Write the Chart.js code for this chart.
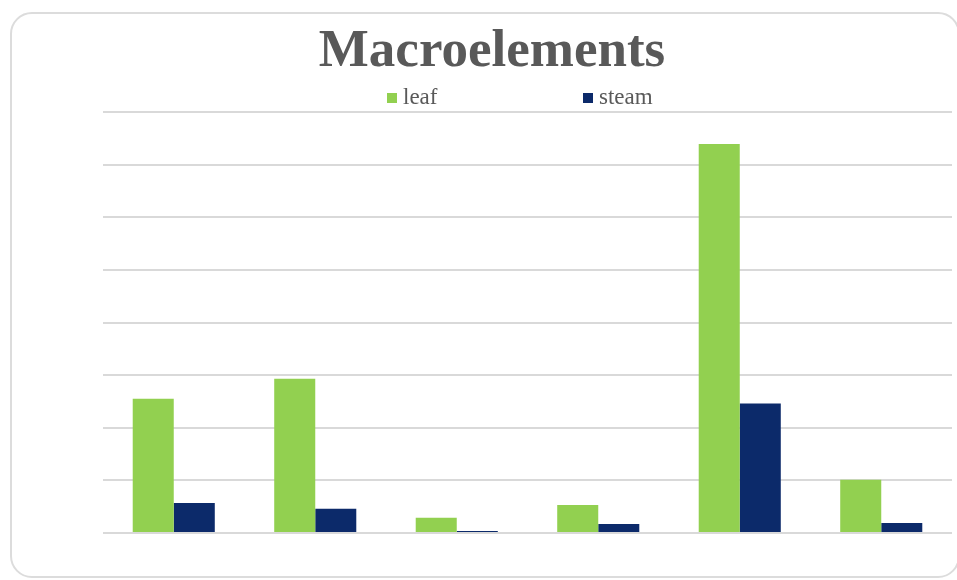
<!DOCTYPE html>
<html>
<head>
<meta charset="utf-8">
<script src="https://cdn.jsdelivr.net/npm/chart.js@4.4.1/dist/chart.umd.min.js"></script>
<style>
  html, body { margin: 0; padding: 0; background: #fff; }
  #wrap { position: relative; width: 957px; height: 580px; overflow: hidden; }
  #card {
    position: absolute; left: 10px; top: 12px; width: 950px; height: 566px;
    border: 2px solid #dcdcdc; border-radius: 22px; box-sizing: border-box;
  }
  #title {
    position: absolute; left: 0; width: 984px; top: 18px; text-align: center;
    font-family: "Liberation Serif", "Times New Roman", serif; font-weight: bold;
    font-size: 53px; color: #595959; line-height: 60px;
  }
  .leg {
    position: absolute; top: 84px; font-family: "Liberation Serif", serif;
    font-size: 23px; color: #595959; line-height: 26px;
  }
  .leg span { display: inline-block; width: 10px; height: 10px; margin-right: 6px; vertical-align: 1px; }
  canvas { position: absolute; left: 0; top: 0; }
</style>
</head>
<body>
<div id="wrap">
  <div id="card"></div>
  <canvas id="chart" width="957" height="580"></canvas>
  <div id="title">Macroelements</div>
  <div class="leg" style="left:387px"><span style="background:#92D050"></span>leaf</div>
  <div class="leg" style="left:583px"><span style="background:#0C2A6A"></span>steam</div>
</div>
<script>
// categories are not labelled in the picture
const categories = ['1', '2', '3', '4', '5', '6'];
const leafValues = [2.55, 2.93, 0.29, 0.53, 7.39, 1.01];
const steamValues = [0.57, 0.46, 0.04, 0.17, 2.46, 0.19];

const ctx = document.getElementById('chart').getContext('2d');

new Chart(ctx, {
    type: 'bar',
    data: {
        labels: categories,
        datasets: [{
            label: 'leaf',
            data: leafValues,
            backgroundColor: '#92D050',
            barPercentage: 1,
            categoryPercentage: 0.58
        }, {
            label: 'steam',
            data: steamValues,
            backgroundColor: '#0C2A6A',
            barPercentage: 1,
            categoryPercentage: 0.58
        }]
    },
    options: {
        responsive: false,
        animation: false,
        layout: {
            padding: { left: 103, right: 5, top: 112, bottom: 39 }
        },
        plugins: {
            legend: { display: false },
            title: { display: false },
            tooltip: { enabled: false }
        },
        scales: {
            y: {
                min: 0,
                max: 8,
                ticks: { display: false, stepSize: 1 },
                border: { display: false },
                grid: {
                    color: '#d9d9d9',
                    lineWidth: 2,
                    drawTicks: false
                }
            },
            x: {
                ticks: { display: false },
                border: { display: false },
                grid: { display: false }
            }
        }
    }
});
</script>
</body>
</html>
